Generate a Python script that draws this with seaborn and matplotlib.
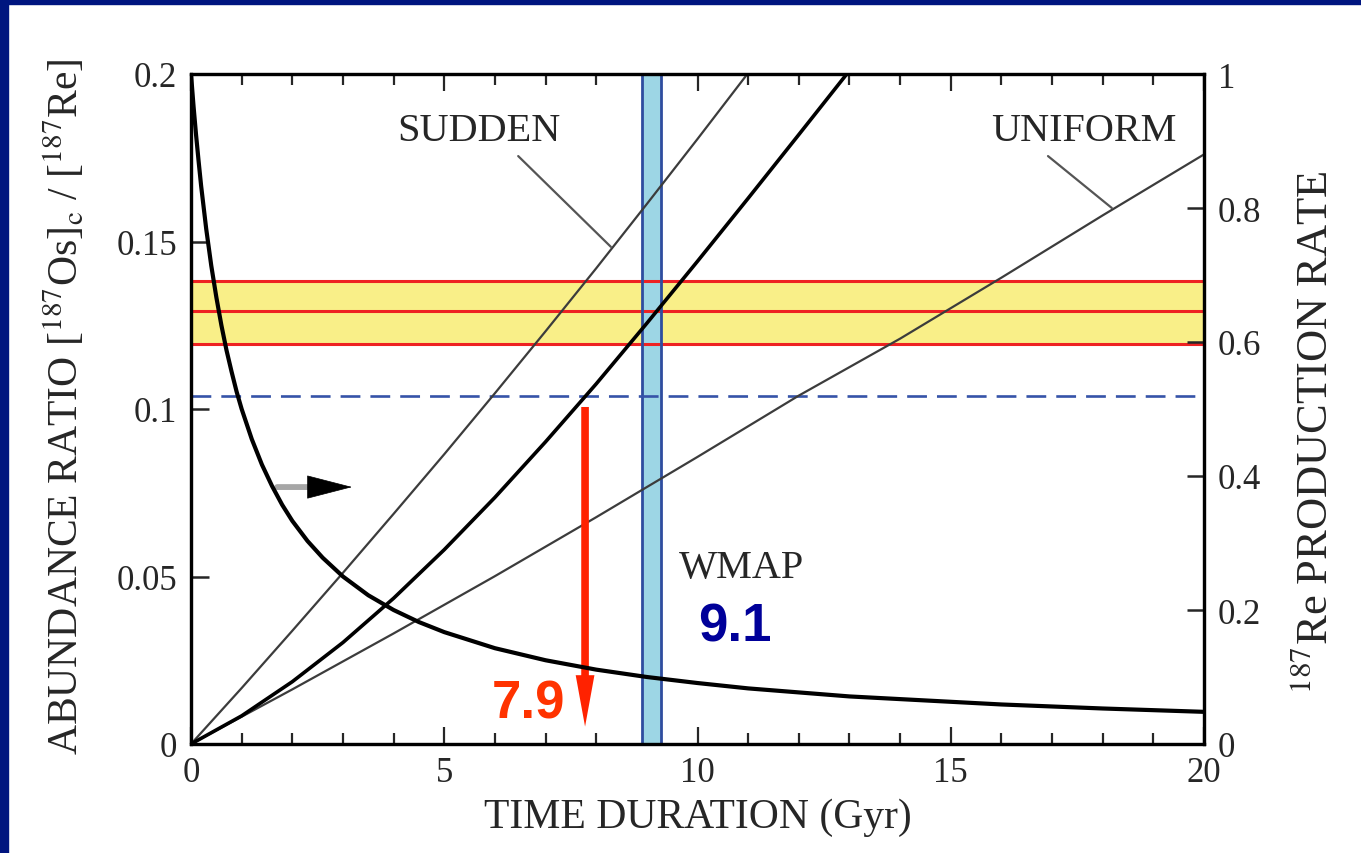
import numpy as np
import pandas as pd
import seaborn as sns
import matplotlib
matplotlib.use("Agg")
import matplotlib.pyplot as plt
from matplotlib.patches import Rectangle

# ---------------- data ----------------
t_decay = [0, 0.05, 0.1, 0.15, 0.2, 0.3, 0.4, 0.5, 0.6, 0.7, 0.8, 0.9, 1.0, 1.2, 1.4,
           1.6, 1.8, 2.0, 2.3, 2.6, 3.0, 3.5, 4.0, 4.5, 5, 6, 7, 8, 9, 10, 11, 12, 13,
           14, 16, 18, 20]
rate_decay = [1.000, 0.952, 0.909, 0.870, 0.833, 0.769, 0.714, 0.667, 0.625, 0.588,
              0.556, 0.526, 0.500, 0.455, 0.417, 0.385, 0.357, 0.333, 0.303, 0.278,
              0.250, 0.222, 0.200, 0.182, 0.167, 0.143, 0.125, 0.111, 0.100, 0.091,
              0.083, 0.077, 0.071, 0.067, 0.059, 0.053, 0.048]

t_sudden = [0, 1, 2, 3, 4, 5, 6, 7, 8, 9, 10, 11]
ratio_sudden = [0, 0.0167, 0.0338, 0.0511, 0.0687, 0.0865, 0.1047, 0.1232, 0.1420,
                0.1612, 0.1806, 0.2003]

t_model = [0, 1, 2, 3, 4, 5, 6, 7, 8, 9, 10, 11, 12, 13]
ratio_model = [0, 0.0084, 0.0186, 0.0303, 0.0435, 0.0580, 0.0736, 0.0902, 0.1075,
               0.1256, 0.1441, 0.1629, 0.1819, 0.2010]

t_uniform = [0, 2, 4, 6, 8, 10, 12, 14, 16, 18, 20]
ratio_uniform = [0, 0.0163, 0.0330, 0.0501, 0.0677, 0.0857, 0.1040, 0.1210, 0.1392,
                 0.1578, 0.1760]

band_low, band_mid, band_high = 0.1194, 0.1293, 0.1382   # observed Os/Re ratio band
ref_ratio = 0.1039                                       # dashed line
wmap_low, wmap_high = 8.90, 9.28                         # WMAP age band (Gyr)
arrow_age = 7.78
arrow_top, arrow_bottom = 0.1006, 0.0052

x_ticks = [0, 5, 10, 15, 20]
x_ticklabels = ["0", "5", "10", "15", "20"]
yl_ticks = [0, 0.05, 0.1, 0.15, 0.2]
yl_ticklabels = ["0", "0.05", "0.1", "0.15", "0.2"]
yr_ticks = [0, 0.2, 0.4, 0.6, 0.8, 1.0]
yr_ticklabels = ["0", "0.2", "0.4", "0.6", "0.8", "1"]

df_decay = pd.DataFrame({"t": t_decay, "v": rate_decay})
df_sudden = pd.DataFrame({"t": t_sudden, "v": ratio_sudden})
df_model = pd.DataFrame({"t": t_model, "v": ratio_model})
df_uniform = pd.DataFrame({"t": t_uniform, "v": ratio_uniform})

# ---------------- style ----------------
sns.set_theme(style="white")
plt.rcParams["font.family"] = ["Liberation Serif", "DejaVu Serif"]
plt.rcParams["mathtext.fontset"] = "stix"
TXT = "#262626"

fig = plt.figure(figsize=(13.61, 8.54), dpi=100)
fig.patch.set_facecolor("white")
# navy frame (top and left)
fig.patches.append(Rectangle((0, 1 - 5 / 854), 1, 5 / 854, transform=fig.transFigure,
                             color="#00157F", zorder=0))
fig.patches.append(Rectangle((0, 0), 8 / 1361, 1, transform=fig.transFigure,
                             color="#00157F", zorder=0))

ax = fig.add_axes([191 / 1361, 109 / 854, 1013 / 1361, 670 / 854])
ax.set_facecolor("white")
ax.set_xlim(0, 20)
ax.set_ylim(0, 0.2)

# bands
ax.axhspan(band_low, band_high, color="#F9EF88", lw=0, zorder=1)
ax.axvspan(wmap_low, wmap_high, color="#9DD6E5", lw=0, zorder=1.5)
for yv in (band_low, band_mid, band_high):
    ax.axhline(yv, color="#EE2222", lw=2.2, zorder=2)
for xv in (wmap_low, wmap_high):
    ax.axvline(xv, color="#2F4D9F", lw=2.0, zorder=2.5)
ax.axhline(ref_ratio, color="#3553A8", lw=1.9, dashes=(7.5, 3.8), zorder=2.5)

# curves
sns.lineplot(data=df_sudden, x="t", y="v", ax=ax, color="#3c3c3c", lw=1.6,
             estimator=None, sort=False, zorder=3)
sns.lineplot(data=df_uniform, x="t", y="v", ax=ax, color="#3c3c3c", lw=1.6,
             estimator=None, sort=False, zorder=3)
sns.lineplot(data=df_model, x="t", y="v", ax=ax, color="black", lw=2.6,
             estimator=None, sort=False, zorder=3)

# labels with pointer lines
ax.text(5.69, 0.1830, "SUDDEN", fontsize=29, color=TXT, ha="center", va="center", zorder=5)
ax.annotate("", xy=(8.29, 0.1484), xytext=(6.46, 0.1755),
            arrowprops=dict(arrowstyle="-", color="#555555", lw=1.6, shrinkA=0, shrinkB=0))
ax.text(17.63, 0.1830, "UNIFORM", fontsize=29, color=TXT, ha="center", va="center", zorder=5)
ax.annotate("", xy=(18.18, 0.1600), xytext=(16.92, 0.1755),
            arrowprops=dict(arrowstyle="-", color="#555555", lw=1.6, shrinkA=0, shrinkB=0))
ax.text(10.86, 0.0528, "WMAP", fontsize=29, color=TXT, ha="center", va="center", zorder=5)
ax.text(10.74, 0.0352, "9.1", fontsize=38, color="#000099", fontweight="bold",
        family="Liberation Sans", ha="center", va="center", zorder=5)
ax.text(6.67, 0.0122, "7.9", fontsize=38, color="#FF3300", fontweight="bold",
        family="Liberation Sans", ha="center", va="center", zorder=5)

# red arrow
ax.annotate("", xy=(arrow_age, arrow_bottom), xytext=(arrow_age, arrow_top),
            arrowprops=dict(arrowstyle="simple,head_length=3.7,head_width=1.35,tail_width=0.55",
                            mutation_scale=10, color="#FF2200", lw=0,
                            shrinkA=0, shrinkB=0), zorder=6)

# small arrow pointing to the right axis
ax.annotate("", xy=(2.42, 0.0767), xytext=(1.70, 0.0767),
            arrowprops=dict(arrowstyle="-", color="#a6a6a6", lw=4.2, shrinkA=0, shrinkB=0),
            zorder=6)
ax.annotate("", xy=(3.18, 0.0767), xytext=(2.31, 0.0767),
            arrowprops=dict(arrowstyle="-|>,head_length=3.1,head_width=0.8",
                            mutation_scale=10, color="black", lw=0.5,
                            shrinkA=0, shrinkB=0), zorder=6)

# axes styling
for s in ax.spines.values():
    s.set_color("black")
    s.set_linewidth(2.3)
ax.set_xticks(x_ticks)
ax.set_xticklabels(x_ticklabels)
ax.set_xticks(np.arange(0, 21, 1), minor=True)
ax.set_yticks(yl_ticks)
ax.set_yticklabels(yl_ticklabels)
ax.tick_params(axis="x", which="major", direction="in", length=12, width=1.6,
               top=True, bottom=True, labelsize=25, labelcolor=TXT, pad=9)
ax.tick_params(axis="x", which="minor", direction="in", length=8, width=1.6,
               top=True, bottom=True)
ax.tick_params(axis="y", which="major", direction="in", length=13, width=1.8,
               left=True, right=False, labelsize=25, labelcolor=TXT, pad=10)
for lab in ax.get_yticklabels():
    lab.set_verticalalignment("center_baseline")
ax.set_xlabel("TIME DURATION (Gyr)", fontsize=30, color=TXT, labelpad=6)
ax.set_ylabel(r"ABUNDANCE RATIO [$^{187}$Os]$_{\mathrm{c}}$ / [$^{187}$Re]",
              fontsize=30, color=TXT)
ax.yaxis.set_label_coords(-0.103, 0.505)

# right axis: production rate
ax2 = ax.twinx()
ax2.set_ylim(0, 1)
ax2.set_xlim(0, 20)
sns.lineplot(data=df_decay, x="t", y="v", ax=ax2, color="black", lw=3.0,
             estimator=None, sort=False, zorder=4)
ax2.set_yticks(yr_ticks)
ax2.set_yticklabels(yr_ticklabels)
ax2.tick_params(axis="y", direction="in", length=12, width=1.8, right=True, left=False,
                labelsize=25, labelcolor=TXT, pad=10)
for lab in ax2.get_yticklabels():
    lab.set_verticalalignment("center_baseline")
for s in ax2.spines.values():
    s.set_color("black")
    s.set_linewidth(2.3)
ax2.set_ylabel(r"$^{187}$Re PRODUCTION RATE", fontsize=32, color=TXT, rotation=90)
ax2.yaxis.set_label_coords(1.09, 0.467)
ax2.set_xlabel("")

fig.savefig("out.png", dpi=100)
